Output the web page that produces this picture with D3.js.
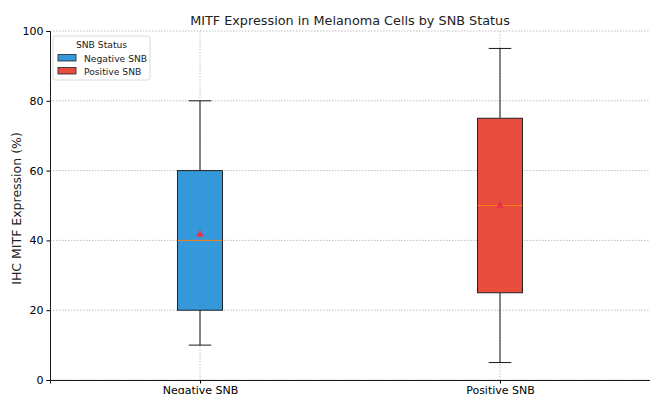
<!DOCTYPE html>
<html><head><meta charset="utf-8">
<script src="https://cdn.jsdelivr.net/npm/d3@7"></script>
<style>body{margin:0;background:#fff}svg{display:block}text{font-family:"DejaVu Sans",sans-serif}</style>
</head><body>
<svg id="c" width="650" height="394"></svg>
<script>
const categories = ["Negative SNB", "Positive SNB"];
const whiskerLow = [10, 5];
const q1 = [20, 25];
const median = [40, 50];
const q3 = [60, 75];
const whiskerHigh = [80, 95];
const means = [41.7, 50];
const colors = ["#3498db", "#e74c3c"];
const yTicks = [0, 20, 40, 60, 80, 100];

const svg = d3.select("#c");
const m = {l: 50, r: 650, t: 31, b: 380};
const x = d3.scaleLinear().domain([0.5, 2.5]).range([m.l, m.r]);
const y = d3.scaleLinear().domain([0, 100]).range([m.b, m.t]);
const bw = 0.15;

// grid
svg.append("g").selectAll("line").data(yTicks).join("line")
  .attr("x1", m.l).attr("x2", m.r).attr("y1", d => y(d)).attr("y2", d => y(d))
  .attr("stroke", "#b0b0b0").attr("stroke-width", 0.8).attr("stroke-dasharray", "1.5,1.5");
svg.append("g").selectAll("line").data(categories).join("line")
  .attr("x1", (d, i) => x(i + 1)).attr("x2", (d, i) => x(i + 1)).attr("y1", m.t).attr("y2", m.b)
  .attr("stroke", "#b0b0b0").attr("stroke-width", 0.8).attr("stroke-dasharray", "1.5,1.5");

// boxes
const g = svg.append("g");
categories.forEach((c, i) => {
  const cx = x(i + 1);
  const hw = x(1 + bw / 2) - x(1);
  const cw = hw / 2;
  g.append("line").attr("x1", cx).attr("x2", cx).attr("y1", y(whiskerLow[i])).attr("y2", y(q1[i])).attr("stroke", "#000").attr("stroke-width", 0.9);
  g.append("line").attr("x1", cx).attr("x2", cx).attr("y1", y(q3[i])).attr("y2", y(whiskerHigh[i])).attr("stroke", "#000").attr("stroke-width", 0.9);
  g.append("line").attr("x1", cx - cw).attr("x2", cx + cw).attr("y1", y(whiskerLow[i])).attr("y2", y(whiskerLow[i])).attr("stroke", "#000").attr("stroke-width", 0.9);
  g.append("line").attr("x1", cx - cw).attr("x2", cx + cw).attr("y1", y(whiskerHigh[i])).attr("y2", y(whiskerHigh[i])).attr("stroke", "#000").attr("stroke-width", 0.9);
  g.append("rect").attr("x", cx - hw).attr("width", 2 * hw).attr("y", y(q3[i])).attr("height", y(q1[i]) - y(q3[i]))
    .attr("fill", colors[i]).attr("stroke", "#222").attr("stroke-width", 1);
  g.append("line").attr("x1", cx - hw).attr("x2", cx + hw).attr("y1", y(median[i])).attr("y2", y(median[i])).attr("stroke", "#ff7f0e").attr("stroke-width", 1);
  g.append("path").attr("d", d3.symbol(d3.symbolTriangle, 26)()).attr("transform", `translate(${cx},${y(means[i])})`)
    .attr("fill", "#e8304a");
});

// axes
const ya = svg.append("g").attr("transform", `translate(${m.l},0)`)
  .call(d3.axisLeft(y).tickValues(yTicks).tickSize(3.5).tickPadding(3));
ya.select(".domain").attr("stroke", "#000").attr("stroke-width", 0.9);
ya.selectAll("text").attr("font-size", 11).attr("fill", "#000").attr("font-family", "DejaVu Sans");
const xa = svg.append("g").attr("transform", `translate(0,${m.b})`)
  .call(d3.axisBottom(x).tickValues([1, 2]).tickFormat((d) => categories[d - 1]).tickSize(3.5).tickPadding(2.5));
xa.select(".domain").attr("stroke", "#000").attr("stroke-width", 0.9);
xa.selectAll("text").attr("font-size", 11).attr("fill", "#000").attr("font-family", "DejaVu Sans");

svg.append("text").attr("x", 350).attr("y", 25).attr("text-anchor", "middle").attr("font-size", 12.8).attr("fill", "#222")
  .text("MITF Expression in Melanoma Cells by SNB Status");
svg.append("text").attr("transform", `translate(21,${(m.t + m.b) / 2 + 3}) rotate(-90)`).attr("text-anchor", "middle")
  .attr("font-size", 12.5).attr("fill", "#222").text("IHC MITF Expression (%)");

// legend
const lg = svg.append("g").attr("transform", "translate(53,36)");
lg.append("rect").attr("width", 97).attr("height", 44).attr("rx", 2).attr("fill", "#fff").attr("fill-opacity", 0.85).attr("stroke", "#d0d0d0").attr("stroke-width", 0.8);
lg.append("text").attr("x", 48.5).attr("y", 11.5).attr("text-anchor", "middle").attr("font-size", 9.2).attr("fill", "#222").text("SNB Status");
categories.forEach((c, i) => {
  lg.append("rect").attr("x", 5).attr("y", 18.5 + i * 13).attr("width", 18).attr("height", 6.5).attr("fill", colors[i]).attr("stroke", "#222").attr("stroke-width", 0.8);
  lg.append("text").attr("x", 31).attr("y", 25.5 + i * 13).attr("font-size", 9.2).attr("fill", "#222").text(c);
});
</script>
</body></html>
